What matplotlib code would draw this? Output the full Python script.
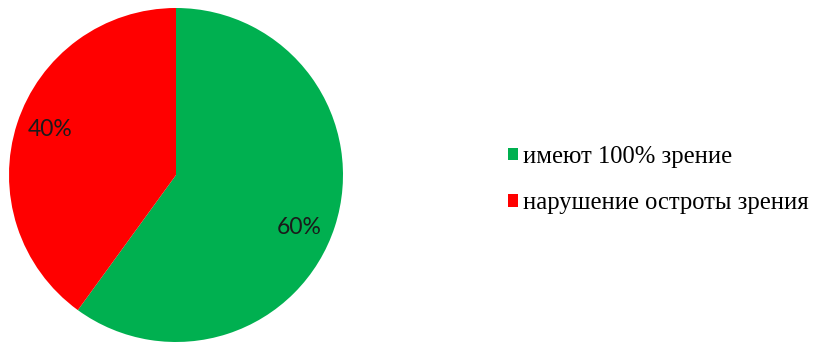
import matplotlib
matplotlib.use("Agg")
import numpy as np
import matplotlib.pyplot as plt
from matplotlib.patches import Patch

categories = ["имеют 100% зрение", "нарушение остроты зрения"]
values = [60, 40]
colors = ["#00B050", "#FF0000"]
label_angle_shift = [-5, -2]  # degrees, label placement nudge

W, H = 815, 342
fig = plt.figure(figsize=(W / 100, H / 100), dpi=100)
cx, cy, r = 176, 175, 167
ax = fig.add_axes([(cx - r) / W, (H - cy - r) / H, 2 * r / W, 2 * r / H])
wedges, texts, autotexts = ax.pie(
    values, colors=colors, startangle=90, counterclock=False,
    autopct=lambda p: f"{p:.0f}%", pctdistance=0.8, radius=1,
    textprops=dict(family="Lato", fontsize=16.5, color="#1a1a1a"),
)
for w, t, s in zip(wedges, autotexts, label_angle_shift):
    ang = np.deg2rad((w.theta1 + w.theta2) / 2 + s)
    t.set_position((0.8 * np.cos(ang), 0.8 * np.sin(ang)))
ax.set_xlim(-1, 1)
ax.set_ylim(-1, 1)
ax.set_aspect("equal")
ax.axis("off")

handles = [Patch(facecolor=c, edgecolor="none") for c in colors]
fig.legend(handles, categories, loc="center left",
           bbox_to_anchor=(508 / W, 1 - 180 / H), frameon=False,
           prop=dict(family="Liberation Serif", size=17.7),
           handlelength=0.42, handleheight=0.42, handletextpad=0.2,
           labelspacing=1.0, borderpad=0, borderaxespad=0)

fig.savefig("out.png", dpi=100)
